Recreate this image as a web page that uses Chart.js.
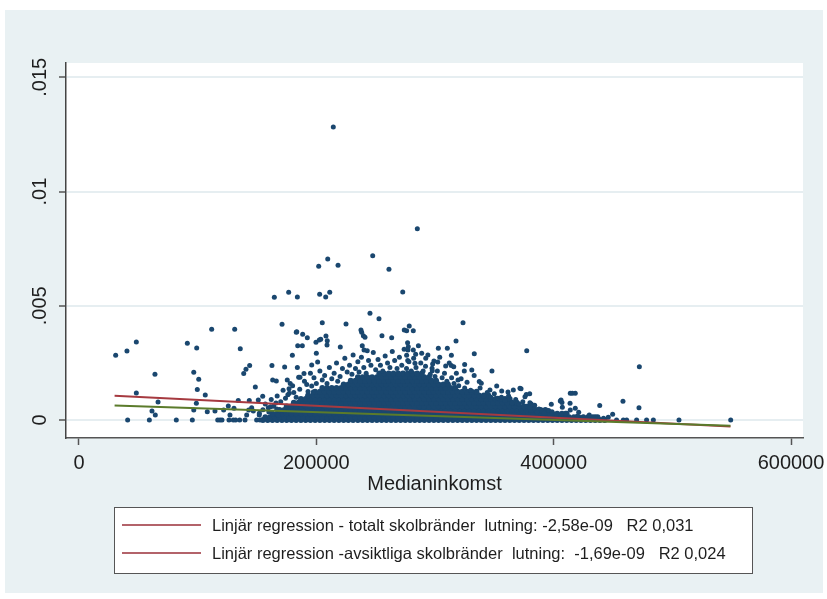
<!DOCTYPE html>
<html lang="sv">
<head>
<meta charset="utf-8">
<title>Skolbränder och medianinkomst</title>
<script src="https://cdn.jsdelivr.net/npm/chart.js@4.4.1/dist/chart.umd.min.js"></script>
<style>
  html, body { margin: 0; padding: 0; background: #fff; }
  #chart { display: block; }
</style>
</head>
<body>
<canvas id="chart" width="827" height="599"></canvas>
<script>
'use strict';

// Axes
const xTickValues = [0, 200000, 400000, 600000];
const xTickLabels = ['0', '200000', '400000', '600000'];
const yTickValues = [0, 0.005, 0.01, 0.015];
const yTickLabels = ['0', '.005', '.01', '.015'];
const xTitle = 'Medianinkomst';

// Scattered schools: [medianinkomst (tkr), andel skolbränder]
const schoolsSparse = [
  // high rates
  [214.3, .01282], [285.1, .00837], [247.5, .00719], [209.6, .00705], [202.0, .00673], [218.3, .00677],
  [261.2, .00660], [272.8, .00560], [164.6, .00537], [176.7, .00559], [184.0, .00538], [202.8, .00550],
  [207.9, .00538], [211.3, .00559], [245.2, .00467], [252.8, .00443],
  // far left
  [30.9, .00283], [40.4, .00302], [48.3, .00341], [41.0, 0], [48.3, .00118], [59.3, 0], [61.5, .00039],
  [64.3, .00022], [64.0, .00200], [66.6, .00079], [82.0, 0],
  [91.3, .00336], [99.2, .00315], [96.7, .00209], [100.9, .00178], [99.7, .00134], [98.9, .00073],
  [96.7, .00044], [95.5, 0], [106.4, .00109], [108.1, .00036], [111.8, .00397], [114.6, .00039],
  [116.9, 0], [118.8, 0], [120.5, 0], [121.9, .00044], [125.8, .00061], [126.4, 0], [127.2, .00022],
  [130.0, 0], [130.6, .00051], [131.2, .00397], [132.0, 0], [134.2, .00085], [135.4, 0], [135.9, .00312],
  [138.8, .00203], [139.9, 0], [140.7, .00222], [141.3, .00022], [143.0, .00044], [143.5, .00085],
  [143.8, .00239], [145.5, .00054], [146.9, .00039], [148.6, .00144], [149.7, 0], [151.1, .00088],
  [151.9, .00022], [152.5, 0], [154.8, .00104], [159.5, .00054], [161.5, .00058],
  [162.6, .00238], [163.2, .00175], [166.0, .00074], [166.3, .00171], [166.6, .00048], [167.9, .00022],
  // above the cloud
  [171.1, .00419], [173.3, .00232], [175.5, .00175], [177.0, .00137], [177.2, .00117], [179.8, .00283],
  [183.1, .00384], [183.5, .00386], [184.0, .00230], [184.3, .00325], [185.1, .00187], [186.2, .00187],
  [188.2, .00325], [188.5, .00375], [189.6, .00203], [191.9, .00155], [192.4, .00360], [196.1, .00241],
  [196.1, .00149], [197.4, .00123], [199.7, .00340], [200.0, .00292], [201.1, .00254], [202.5, .00350],
  [203.7, .00353], [205.0, .00426], [208.1, .00368], [209.2, .00347], [209.0, .00328], [220.2, .00319],
  [225.0, .00420], [237.6, .00394], [238.2, .00384], [239.6, .00369], [241.0, .00362], [238.7, .00325],
  [240.2, .00306], [242.9, .00303], [255.3, .00369], [263.5, .00360], [274.1, .00394], [276.1, .00391],
  [278.3, .00411], [281.7, .00391], [276.9, .00338], [277.5, .00321], [277.2, .00306], [281.7, .00306],
  [283.7, .00288], [288.8, .00292], [292.2, .00270], [276.1, .00283], [277.0, .00260], [283.1, .00248],
  [297.5, .00226], [297.7, .00216], [299.1, .00258], [302.8, .00314], [302.3, .00254], [309.0, .00236],
  [310.4, .00314], [313.8, .00283], [317.7, .00346], [313.7, .00239], [315.8, .00233], [319.4, .00175],
  [323.6, .00426], [325.0, .00243], [324.7, .00214], [331.0, .00219], [333.1, .00290], [337.3, .00169],
  [339.0, .00161], [346.3, .00131], [348.0, .00214], [352.0, .00149], [356.2, .00127], [361.5, .00123],
  [366.0, .00131], [371.6, .00139], [372.5, .00137], [375.8, .00102], [376.9, .00112], [377.3, .00303],
  [379.8, .00115], [380.0, .00076], [381.1, .00070], [387.6, .00048], [394.1, .00042], [395.8, .00042],
  [396.9, .00022], [398.0, .00069], [398.6, .00036], [405.6, .00083], [406.2, .00088], [407.0, .00077],
  [407.3, .00056], [413.8, .00073], [414.0, .00117], [414.0, .00044], [415.7, .00117], [418.2, .00117],
  [418.2, .00051], [421.1, .00034], [438.8, .00063], [449.7, .00025], [458.4, .00082], [471.9, .00054],
  [472.2, .00233], [453.0, 0], [458.7, 0], [461.5, 0], [469.9, 0], [478.3, 0], [484.0, 0], [505.6, 0],
  [549.2, 0],
  // ragged edge of the cloud
  [152, .00030], [155, .00045], [157, .00070], [160, .00035], [162, .00090], [164, .00060], [167, .00105],
  [170, .00080], [172, .00130], [174, .00095], [176, .00110], [178, .00160], [181, .00120], [183, .00100],
  [180, .00150], [186, .00135], [190, .00170], [193, .00125], [195, .00205], [198, .00185], [200, .00160],
  [203, .00215], [205, .00175], [207, .00195], [209, .00160], [211, .00230], [213, .00180], [215, .00205],
  [217, .00250], [218, .00170], [220, .00190], [222, .00225], [224, .00270], [226, .00210], [228, .00240],
  [230, .00200], [231, .00285], [233, .00225], [235, .00255], [236, .00210], [238, .00275], [240, .00230],
  [242, .00205], [244, .00260], [246, .00240], [248, .00295], [250, .00220], [252, .00265], [254, .00240],
  [256, .00215], [258, .00280], [260, .00250], [262, .00230], [264, .00300], [266, .00260], [268, .00225],
  [270, .00275], [272, .00240], [274, .00310], [276, .00225], [278, .00255], [280, .00215], [282, .00270],
  [284, .00230], [286, .00325], [288, .00250], [290, .00215], [292, .00235], [294, .00285], [296, .00200],
  [298, .00245], [300, .00190], [302, .00215], [304, .00275], [306, .00185], [308, .00205], [310, .00170],
  [312, .00250], [314, .00185], [316, .00160], [318, .00205], [320, .00150], [322, .00180], [325, .00140],
  [327, .00165], [330, .00130], [333, .00195], [335, .00120], [338, .00140], [341, .00105], [344, .00120],
  [347, .00100], [350, .00115], [353, .00095], [356, .00100], [359, .00085], [362, .00105], [365, .00075],
  [368, .00090], [371, .00070], [374, .00080], [377, .00060], [380, .00055], [384, .00065], [386, .00035],
  [390, .00040], [392, .00030], [402, .00025], [410, .00030], [420, .00018], [425, .00012], [430, .00022],
  [435, .00014], [442, .00008], [446, .00012]
];

// Dense cloud near the x axis, one row per rate level: [andel, [medianinkomst (tkr) ...]]
const schoolsDense = [
  [0, [155, 159, 163, 167, 171, 175, 179, 183, 187, 191, 195, 199, 203, 207, 211, 215, 219, 223, 227, 231,
    235, 239, 243, 247, 251, 255, 259, 263, 267, 271, 275, 279, 283, 287, 291, 295, 299, 303, 307, 311, 315,
    319, 323, 327, 331, 335, 339, 343, 347, 351, 355, 359, 363, 367, 371, 375, 379, 383, 387, 391, 395, 399,
    403, 407, 411, 415, 419, 423, 427, 431, 435, 439, 443]],
  [.00012, [157, 161, 165, 169, 173, 177, 181, 185, 189, 193, 197, 201, 205, 209, 213, 217, 221, 225, 229,
    233, 237, 241, 245, 249, 253, 257, 261, 265, 269, 273, 277, 281, 285, 289, 293, 297, 301, 305, 309, 313,
    317, 321, 325, 329, 333, 337, 341, 345, 349, 353, 357, 361, 365, 369, 373, 377, 381, 385, 389, 393, 397,
    401, 405, 409, 413, 417, 421, 425, 429, 433, 437]],
  [.00028, [163, 167, 171, 175, 179, 183, 187, 191, 195, 199, 203, 207, 211, 215, 219, 223, 227, 231, 235,
    239, 243, 247, 251, 255, 259, 263, 267, 271, 275, 279, 283, 287, 291, 295, 299, 303, 307, 311, 315, 319,
    323, 327, 331, 335, 339, 343, 347, 351, 355, 359, 363, 367, 371, 375, 379, 383, 387, 391, 395, 399, 403,
    407, 411]],
  [.00044, [169, 173, 177, 181, 185, 189, 193, 197, 201, 205, 209, 213, 217, 221, 225, 229, 233, 237, 241,
    245, 249, 253, 257, 261, 265, 269, 273, 277, 281, 285, 289, 293, 297, 301, 305, 309, 313, 317, 321, 325,
    329, 333, 337, 341, 345, 349, 353, 357, 361, 365, 369, 373, 377, 381, 385, 389, 393]],
  [.00060, [175, 179, 183, 187, 191, 195, 199, 203, 207, 211, 215, 219, 223, 227, 231, 235, 239, 243, 247,
    251, 255, 259, 263, 267, 271, 275, 279, 283, 287, 291, 295, 299, 303, 307, 311, 315, 319, 323, 327, 331,
    335, 339, 343, 347, 351, 355, 359, 363, 367, 371, 375, 379, 383]],
  [.00076, [181, 185, 189, 193, 197, 201, 205, 209, 213, 217, 221, 225, 229, 233, 237, 241, 245, 249, 253,
    257, 261, 265, 269, 273, 277, 281, 285, 289, 293, 297, 301, 305, 309, 313, 317, 321, 325, 329, 333, 337,
    341, 345, 349, 353, 357, 361, 365, 369]],
  [.00092, [187, 191, 195, 199, 203, 207, 211, 215, 219, 223, 227, 231, 235, 239, 243, 247, 251, 255, 259,
    263, 267, 271, 275, 279, 283, 287, 291, 295, 299, 303, 307, 311, 315, 319, 323, 327, 331, 335, 339, 343,
    347, 351, 355, 359, 363]],
  [.00108, [193, 197, 201, 205, 209, 213, 217, 221, 225, 229, 233, 237, 241, 245, 249, 253, 257, 261, 265,
    269, 273, 277, 281, 285, 289, 293, 297, 301, 305, 309, 313, 317, 321, 325, 329, 333, 337, 341, 345]],
  [.00124, [199, 203, 207, 211, 215, 219, 223, 227, 231, 235, 239, 243, 247, 251, 255, 259, 263, 267, 271,
    275, 279, 283, 287, 291, 295, 299, 303, 307, 311, 315, 319, 323, 327, 331, 335]],
  [.00140, [205, 209, 213, 217, 221, 225, 229, 233, 237, 241, 245, 249, 253, 257, 261, 265, 269, 273, 277,
    281, 285, 289, 293, 297, 301, 305, 309, 313, 317]],
  [.00156, [223, 227, 231, 235, 239, 243, 247, 251, 255, 259, 263, 267, 271, 275, 279, 283, 287, 291, 295,
    299, 303, 307, 311]],
  [.00172, [229, 233, 237, 241, 245, 249, 253, 257, 261, 265, 269, 273, 277, 281, 285, 289, 293, 297, 301]],
  [.00188, [235, 239, 243, 247, 251, 255, 259, 263, 267, 271, 275, 279, 283, 287, 291, 295]],
  [.00204, [253, 257, 261, 265, 269, 273, 277, 281, 285, 289]]
];

// Fitted lines, end points [medianinkomst (tkr), andel]
const fitTotal = [[30, 0.00106], [549, -0.00028]];
const fitIntentional = [[30, 0.00063], [549, -0.00025]];

const legendLabels = [
  'Linjär regression - totalt skolbränder  lutning: -2,58e-09   R2 0,031',
  'Linjär regression -avsiktliga skolbränder  lutning:  -1,69e-09   R2 0,024'
];

const FONT = '"Liberation Sans", Arial, Helvetica, sans-serif';
const NAVY = '#1a476f';
const MAROON = '#a63a40';
const FOREST = '#5b7b2b';
const LEGEND_LINE = '#b3636a';
const TEXT = '#1e1e1e';

const toPoint = ([k, v]) => ({ x: k * 1000, y: v });

const sparsePoints = schoolsSparse.map(toPoint);
const densePoints = schoolsDense.flatMap(([v, ks]) => ks.map(k => toPoint([k, v])));

// Stata-like frame: bluish graph region, white plot region, rotated y labels, boxed legend
const stataFrame = {
  id: 'stataFrame',
  beforeDraw(chart) {
    const { ctx, chartArea: a } = chart;
    ctx.save();
    ctx.fillStyle = '#ffffff';
    ctx.fillRect(0, 0, chart.width, chart.height);
    ctx.fillStyle = '#e9f1f3';
    ctx.fillRect(5, 10, 818, 583);
    ctx.fillStyle = '#ffffff';
    ctx.fillRect(a.left, a.top, a.right - a.left, a.bottom - a.top);
    ctx.restore();
  },
  afterDraw(chart) {
    const { ctx, chartArea: a, scales: { y } } = chart;
    ctx.save();
    ctx.fillStyle = TEXT;
    ctx.font = '20px ' + FONT;
    ctx.textAlign = 'center';
    ctx.textBaseline = 'middle';
    yTickValues.forEach((v, i) => {
      ctx.save();
      ctx.translate(a.left - 26, y.getPixelForValue(v));
      ctx.rotate(-Math.PI / 2);
      ctx.fillText(yTickLabels[i], 0, 0);
      ctx.restore();
    });

    // legend box
    ctx.fillStyle = '#ffffff';
    ctx.fillRect(114.5, 507.5, 638, 66);
    ctx.strokeStyle = '#555555';
    ctx.lineWidth = 1;
    ctx.strokeRect(114.5, 507.5, 638, 66);
    ctx.font = '16.5px ' + FONT;
    ctx.textAlign = 'left';
    legendLabels.forEach((label, i) => {
      const ly = 525 + i * 28;
      ctx.strokeStyle = LEGEND_LINE;
      ctx.lineWidth = 2;
      ctx.beginPath();
      ctx.moveTo(122, ly);
      ctx.lineTo(201, ly);
      ctx.stroke();
      ctx.fillStyle = TEXT;
      ctx.fillText(label, 212, ly + 1);
    });
    ctx.restore();
  }
};

new Chart(document.getElementById('chart'), {
  type: 'scatter',
  data: {
    datasets: [
      {
        label: legendLabels[1],
        data: fitIntentional.map(toPoint),
        showLine: true,
        borderColor: FOREST,
        borderWidth: 2,
        pointRadius: 0,
        order: 0
      },
      {
        label: legendLabels[0],
        data: fitTotal.map(toPoint),
        showLine: true,
        borderColor: MAROON,
        borderWidth: 2,
        pointRadius: 0,
        order: 1
      },
      {
        label: 'Skolor',
        data: sparsePoints,
        backgroundColor: NAVY,
        borderWidth: 0,
        pointRadius: 2.5,
        order: 2
      },
      {
        label: 'Skolor (tätt)',
        data: densePoints,
        backgroundColor: NAVY,
        borderWidth: 0,
        pointRadius: 2.9,
        order: 3
      }
    ]
  },
  options: {
    responsive: false,
    animation: false,
    devicePixelRatio: 1,
    layout: { padding: { top: 63, right: 24, bottom: 90, left: 0 } },
    plugins: {
      legend: { display: false },
      tooltip: { enabled: false }
    },
    scales: {
      x: {
        type: 'linear',
        min: -10955,
        max: 610112,
        afterBuildTicks: scale => { scale.ticks = xTickValues.map(v => ({ value: v })); },
        afterFit: scale => { scale.height = 71; scale.paddingLeft = 0; scale.paddingRight = 0; },
        ticks: {
          autoSkip: false,
          maxRotation: 0,
          padding: 6.5,
          color: TEXT,
          font: { family: FONT, size: 20 },
          callback: (value, index) => xTickLabels[index]
        },
        grid: {
          drawOnChartArea: false,
          drawTicks: true,
          tickLength: 7,
          tickColor: '#555555',
          tickWidth: 1.5
        },
        border: { display: true, color: '#555555', width: 1.5 },
        title: {
          display: true,
          text: xTitle,
          color: TEXT,
          font: { family: FONT, size: 20 },
          padding: { top: 0, bottom: 12.5 }
        }
      },
      y: {
        type: 'linear',
        min: -0.000788,
        max: 0.015626,
        afterBuildTicks: scale => { scale.ticks = yTickValues.map(v => ({ value: v })); },
        afterFit: scale => { scale.width = 66; },
        ticks: { display: false },
        grid: {
          color: '#e6eef1',
          lineWidth: 2,
          drawTicks: true,
          tickLength: 7,
          tickColor: '#555555',
          tickWidth: 1.5
        },
        border: { display: true, color: '#444444', width: 1.5 }
      }
    }
  },
  plugins: [stataFrame]
});
</script>
</body>
</html>
